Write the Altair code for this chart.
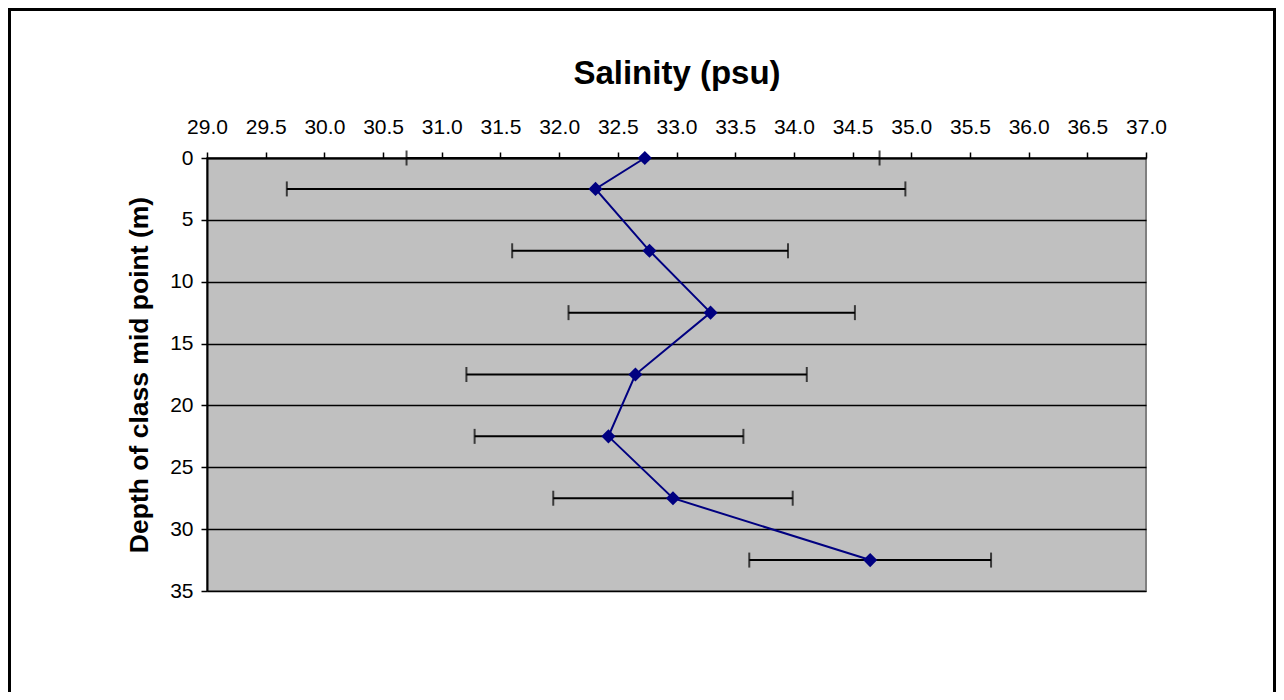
import altair as alt
import pandas as pd

# Data
depth = [0, 2.5, 7.5, 12.5, 17.5, 22.5, 27.5, 32.5]
salinity = [32.73, 32.31, 32.77, 33.29, 32.65, 32.42, 32.97, 34.65]
sal_low = [30.70, 29.68, 31.60, 32.08, 31.21, 31.28, 31.95, 33.62]
sal_high = [34.73, 34.95, 33.95, 34.52, 34.11, 33.57, 33.99, 35.68]

x_ticks = [29.0, 29.5, 30.0, 30.5, 31.0, 31.5, 32.0, 32.5, 33.0, 33.5,
           34.0, 34.5, 35.0, 35.5, 36.0, 36.5, 37.0]
y_ticks = [0, 5, 10, 15, 20, 25, 30, 35]

df = pd.DataFrame({"depth": depth, "sal": salinity, "lo": sal_low, "hi": sal_high})

FONT = "Liberation Sans"
W, H = 939, 433

xscale = alt.Scale(domain=[29, 37], nice=False, zero=False)
yscale = alt.Scale(domain=[0, 35], reverse=True, nice=False, zero=False)

x_axis = alt.Axis(
    orient="top", values=x_ticks, format=".1f", title="Salinity (psu)",
    grid=False, labelOverlap=False, labelFlush=False,
    domainColor="black", domainWidth=2, tickColor="black", tickWidth=1.5,
    tickSize=6, labelFont=FONT, labelFontSize=21, labelColor="black",
    labelPadding=15, titleFont=FONT, titleFontSize=33, titleFontWeight="bold",
    titleColor="black", titlePadding=26,
)
y_axis = alt.Axis(
    values=y_ticks, title="Depth of class mid point (m)", grid=True,
    gridColor="black", gridWidth=1.5, gridOpacity=1,
    domainColor="black", domainWidth=2, tickColor="black", tickWidth=1.5,
    tickSize=6, labelFont=FONT, labelFontSize=21, labelColor="black",
    labelPadding=8, titleFont=FONT, titleFontSize=26.5, titleFontWeight="bold",
    titleColor="black", titlePadding=16,
)

base = alt.Chart(df)

bars = base.mark_rule(color="black", strokeWidth=2).encode(
    x=alt.X("lo:Q", scale=xscale, axis=x_axis),
    x2="hi:Q",
    y=alt.Y("depth:Q", scale=yscale, axis=y_axis),
)
caps_lo = base.mark_tick(color="black", orient="vertical", size=15, thickness=2).encode(
    x=alt.X("lo:Q", scale=xscale), y=alt.Y("depth:Q", scale=yscale)
)
caps_hi = base.mark_tick(color="black", orient="vertical", size=15, thickness=2).encode(
    x=alt.X("hi:Q", scale=xscale), y=alt.Y("depth:Q", scale=yscale)
)
line = base.mark_line(color="#000080", strokeWidth=2).encode(
    x=alt.X("sal:Q", scale=xscale), y=alt.Y("depth:Q", scale=yscale),
    order="depth:Q",
)
pts = base.mark_point(shape="diamond", filled=True, color="#000080", size=200, opacity=1).encode(
    x=alt.X("sal:Q", scale=xscale), y=alt.Y("depth:Q", scale=yscale)
)

PAD_L, PAD_T, PAD_R, PAD_B = 199, 150, 130, 101
frame = alt.Chart(pd.DataFrame({"a": [0]})).mark_rect(
    fill=None, stroke="black", strokeWidth=3, clip=False
).encode(
    x=alt.value(1.5 - PAD_L), x2=alt.value(W + PAD_R - 1.5),
    y=alt.value(1.5 - PAD_T), y2=alt.value(H + PAD_B + 40),
)

chart = alt.layer(bars, caps_lo, caps_hi, line, pts, frame).properties(
    width=W, height=H,
    autosize=alt.AutoSizeParams(type="none"),
    padding={"left": PAD_L, "top": PAD_T, "right": PAD_R, "bottom": PAD_B},
    background="white",
).configure_view(
    fill="#C0C0C0", stroke="#808080", strokeWidth=2
)

chart.save("out.html", embed_options={"renderer": "svg", "actions": False})
